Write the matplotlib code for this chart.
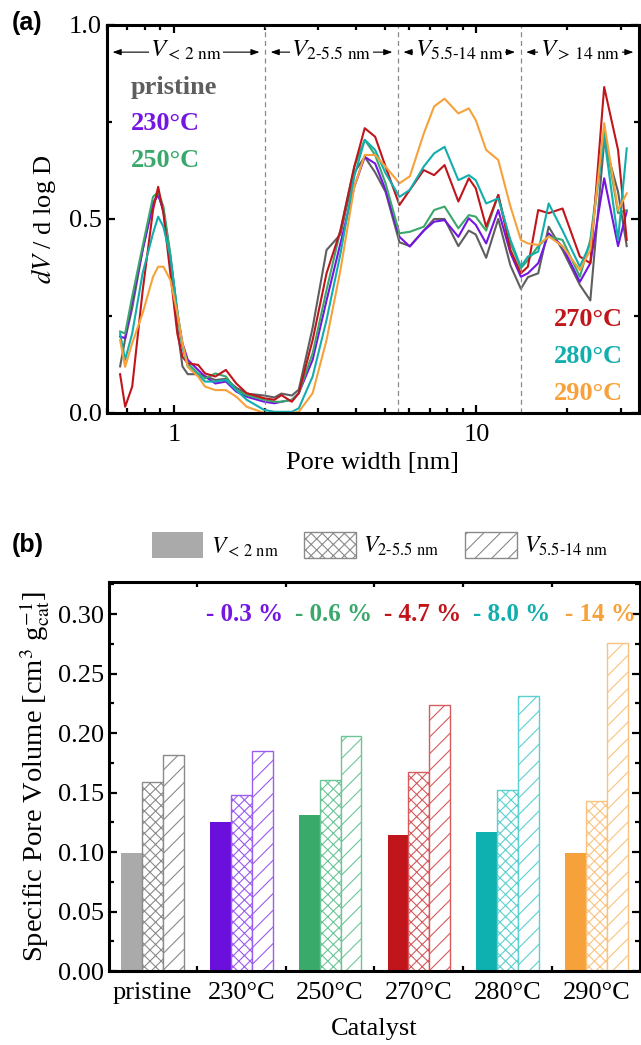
import numpy as np
import matplotlib
matplotlib.use('Agg')
import matplotlib.pyplot as plt
from matplotlib.patches import Patch
from matplotlib.ticker import LogLocator, NullFormatter, FixedLocator, MultipleLocator

plt.rcParams['font.family'] = ['Liberation Serif', 'DejaVu Serif']
plt.rcParams['mathtext.fontset'] = 'stix'
plt.rcParams['hatch.linewidth'] = 0.8

# ---- panel (a): pore size distributions ----
pore_width = [0.663, 0.689, 0.727, 0.787, 0.852, 0.886, 0.922, 0.972, 1.025, 1.066,
              1.110, 1.201, 1.266, 1.370, 1.484, 1.606, 1.739, 1.985, 2.148, 2.265,
              2.452, 2.585, 2.873, 3.194, 3.550, 3.946, 4.272, 4.624, 5.006, 5.565,
              6.024, 6.696, 7.246, 7.847, 8.716, 9.437, 9.950, 10.77, 11.81, 12.96,
              14.03, 14.80, 16.01, 17.34, 19.27, 21.99, 23.81, 26.46, 29.41, 31.42]

psd_pristine = [0.12, 0.19, 0.27, 0.42, 0.54, 0.565, 0.52, 0.40, 0.22, 0.12,
                0.10, 0.10, 0.095, 0.085, 0.088, 0.065, 0.05, 0.045, 0.04, 0.05,
                0.045, 0.06, 0.22, 0.42, 0.46, 0.62, 0.66, 0.62, 0.57, 0.44,
                0.43, 0.47, 0.50, 0.50, 0.43, 0.47, 0.46, 0.40, 0.50, 0.38,
                0.32, 0.35, 0.36, 0.48, 0.42, 0.33, 0.29, 0.70, 0.57, 0.43]
psd_230 = [0.197, 0.193, 0.29, 0.42, 0.54, 0.562, 0.523, 0.403, 0.257, 0.18,
           0.137, 0.111, 0.094, 0.076, 0.081, 0.055, 0.042, 0.029, 0.025, 0.029,
           0.034, 0.051, 0.137, 0.29, 0.437, 0.583, 0.66, 0.643, 0.575, 0.454,
           0.429, 0.47, 0.493, 0.497, 0.454, 0.502, 0.485, 0.437, 0.523, 0.412,
           0.351, 0.36, 0.386, 0.463, 0.429, 0.338, 0.386, 0.605, 0.43, 0.52]
psd_250 = [0.21, 0.205, 0.30, 0.43, 0.557, 0.57, 0.532, 0.41, 0.257, 0.171,
           0.128, 0.102, 0.089, 0.102, 0.094, 0.059, 0.046, 0.034, 0.029, 0.029,
           0.034, 0.051, 0.154, 0.317, 0.47, 0.635, 0.704, 0.665, 0.592, 0.463,
           0.467, 0.48, 0.523, 0.532, 0.476, 0.51, 0.506, 0.47, 0.562, 0.437,
           0.373, 0.394, 0.43, 0.455, 0.446, 0.351, 0.446, 0.73, 0.515, 0.523]
psd_270 = [0.10, 0.016, 0.068, 0.314, 0.523, 0.583, 0.515, 0.36, 0.205, 0.145,
           0.128, 0.124, 0.102, 0.094, 0.111, 0.076, 0.051, 0.038, 0.034, 0.046,
           0.029, 0.051, 0.188, 0.36, 0.47, 0.635, 0.734, 0.712, 0.635, 0.536,
           0.575, 0.626, 0.613, 0.639, 0.545, 0.605, 0.579, 0.48, 0.562, 0.42,
           0.36, 0.377, 0.523, 0.515, 0.527, 0.403, 0.386, 0.84, 0.678, 0.446]
psd_280 = [0.205, 0.137, 0.205, 0.36, 0.463, 0.506, 0.48, 0.403, 0.265, 0.171,
           0.12, 0.098, 0.081, 0.081, 0.085, 0.059, 0.034, 0.008, 0.003, 0.003,
           0.003, 0.012, 0.094, 0.24, 0.41, 0.61, 0.704, 0.678, 0.618, 0.557,
           0.575, 0.635, 0.669, 0.686, 0.60, 0.613, 0.60, 0.54, 0.553, 0.446,
           0.377, 0.403, 0.416, 0.54, 0.47, 0.377, 0.437, 0.712, 0.446, 0.682]
psd_290 = [0.188, 0.119, 0.18, 0.257, 0.351, 0.377, 0.377, 0.343, 0.257, 0.18,
           0.119, 0.094, 0.068, 0.059, 0.059, 0.042, 0.016, 0.0, 0.0, 0.0,
           0.0, 0.003, 0.051, 0.188, 0.368, 0.583, 0.665, 0.665, 0.635, 0.592,
           0.61, 0.72, 0.79, 0.81, 0.772, 0.785, 0.755, 0.678, 0.652, 0.532,
           0.446, 0.437, 0.433, 0.455, 0.43, 0.368, 0.42, 0.747, 0.523, 0.566]

region_bounds = [0.6, 2, 5.5, 14, 34.5]
region_labels = [r'$\mathit{V}_{<\,\mathrm{2\ nm}}$', r'$\mathit{V}_{\text{2-5.5 nm}}$',
                 r'$\mathit{V}_{\text{5.5-14 nm}}$', r'$\mathit{V}_{>\,\mathrm{14\ nm}}$']

# ---- panel (b): pore volumes ----
catalysts = ['pristine', '230°C', '250°C', '270°C', '280°C', '290°C']
v_micro = [0.099, 0.125, 0.131, 0.114, 0.117, 0.099]
v_meso_small = [0.159, 0.148, 0.161, 0.167, 0.152, 0.143]
v_meso_large = [0.182, 0.185, 0.198, 0.224, 0.231, 0.276]
loss_labels = ['- 0.3 %', '- 0.6 %', '- 4.7 %', '- 8.0 %', '- 14 %']

colors = ['#5e5e5e', '#7515e3', '#3aa86b', '#c0151b', '#12adad', '#f7a13a']
bar_solid = ['#aaaaaa', '#6b0fdc', '#3aaa6a', '#c0151b', '#0fb0b0', '#f7a13a']
bar_edge = ['#8a8a8a', '#9b5cf0', '#6cc597', '#d75a5d', '#5cd0d0', '#f9c27e']

fig = plt.figure(figsize=(6.41, 10.45), dpi=100)
ax = fig.add_axes([0.1669, 0.6048, 0.830, 0.3713])
axb = fig.add_axes([0.1700, 0.0708, 0.8284, 0.3722])

series = [psd_pristine, psd_230, psd_250, psd_270, psd_280, psd_290]
for ys, c in zip(series, colors):
    ax.plot(pore_width, ys, color=c, lw=1.5)

ax.set_xscale('log')
ax.set_xlim(0.6, 34.5)
ax.set_ylim(0, 1.0)
for b in region_bounds[1:-1]:
    ax.axvline(b, color='#888888', ls=(0, (4, 3)), lw=0.9)

for i, lab in enumerate(region_labels):
    a, b = region_bounds[i], region_bounds[i + 1]
    ax.annotate('', xy=(a, 0.93), xytext=(b, 0.93),
                arrowprops=dict(arrowstyle='<|-|>,head_length=0.5,head_width=0.18',
                                color='black', lw=0.8, shrinkA=4, shrinkB=4))
    ax.text(np.sqrt(a * b), 0.935, lab, ha='center', va='center', fontsize=18,
            bbox=dict(facecolor='white', edgecolor='none', pad=1))

for lab, c, y in zip(['pristine', '230°C', '250°C'], colors[:3], [0.838, 0.745, 0.652]):
    ax.text(0.72, y, lab, color=c, fontsize=19, fontweight='bold', va='center', ha='left')
for lab, c, y in zip(['270°C', '280°C', '290°C'], colors[3:], [0.24, 0.145, 0.05]):
    ax.text(30.5, y, lab, color=c, fontsize=19, fontweight='bold', va='center', ha='right')

ax.xaxis.set_major_locator(FixedLocator([1, 10]))
ax.xaxis.set_major_formatter(matplotlib.ticker.FixedFormatter(['1', '10']))
ax.xaxis.set_minor_locator(LogLocator(base=10, subs=np.arange(2, 10)))
ax.xaxis.set_minor_formatter(NullFormatter())
ax.yaxis.set_major_locator(MultipleLocator(0.5))
ax.yaxis.set_minor_locator(MultipleLocator(0.25))
ax.set_xlabel('Pore width [nm]', fontsize=19, labelpad=4)
ax.set_ylabel(r'$\mathit{dV}$ / d log D', fontsize=19, labelpad=8)

# bars
x = np.arange(len(catalysts))
w = 0.235
for i in range(len(catalysts)):
    axb.bar(x[i] - w, v_micro[i], w, color=bar_solid[i], edgecolor='none')
    axb.bar(x[i], v_meso_small[i], w, facecolor='white', edgecolor=bar_edge[i],
            hatch='xxx', lw=1)
    axb.bar(x[i] + w, v_meso_large[i], w, facecolor='white', edgecolor=bar_edge[i],
            hatch='//', lw=1)
for i, lab in enumerate(loss_labels):
    axb.text(x[i + 1] + 0.04, 0.30, lab, color=colors[i + 1], fontsize=18,
             fontweight='bold', ha='center', va='center')

axb.set_xlim(-0.49, 5.49)
axb.set_ylim(0, 0.327)
axb.set_xticks(x)
axb.set_xticklabels(catalysts)
axb.set_xticks([0.5, 1.5, 2.5, 3.5, 4.5], minor=True)
axb.yaxis.set_major_locator(MultipleLocator(0.05))
axb.yaxis.set_minor_locator(MultipleLocator(0.025))
axb.yaxis.set_major_formatter(matplotlib.ticker.FormatStrFormatter('%.2f'))
axb.set_xlabel('Catalyst', fontsize=19, labelpad=10)
axb.set_ylabel(r'Specific Pore Volume [cm$^{3}$ g$^{-1}_{\mathrm{cat}}$]', fontsize=20.5,
               labelpad=4)

handles = [Patch(facecolor='#aaaaaa', edgecolor='none'),
           Patch(facecolor='white', edgecolor='#8a8a8a', hatch='xxx', lw=1),
           Patch(facecolor='white', edgecolor='#8a8a8a', hatch='//', lw=1)]
fig.legend(handles, [r'$\mathit{V}_{<\,\mathrm{2\ nm}}$', r'$\mathit{V}_{\text{2-5.5 nm}}$',
                     r'$\mathit{V}_{\text{5.5-14 nm}}$'],
           loc='center', bbox_to_anchor=(0.593, 0.478), ncol=3, frameon=False,
           fontsize=17, handlelength=2.2, handleheight=1.3, columnspacing=1.1,
           handletextpad=0.3)

for a_ in (ax, axb):
    for s in a_.spines.values():
        s.set_linewidth(2.2)
    a_.tick_params(which='both', direction='in', top=True, right=True, width=1.6,
                   labelsize=19)
    a_.tick_params(which='major', length=6)
    a_.tick_params(which='minor', length=3.5)
axb.tick_params(axis='x', which='major', length=0, pad=8)
ax.tick_params(axis='x', which='major', pad=8)

fig.text(0.018, 0.978, '(a)', fontsize=18, fontweight='bold', family='Liberation Sans',
         va='center')
fig.text(0.018, 0.478, '(b)', fontsize=18, fontweight='bold', family='Liberation Sans',
         va='center')

fig.savefig('out.png', dpi=100)
